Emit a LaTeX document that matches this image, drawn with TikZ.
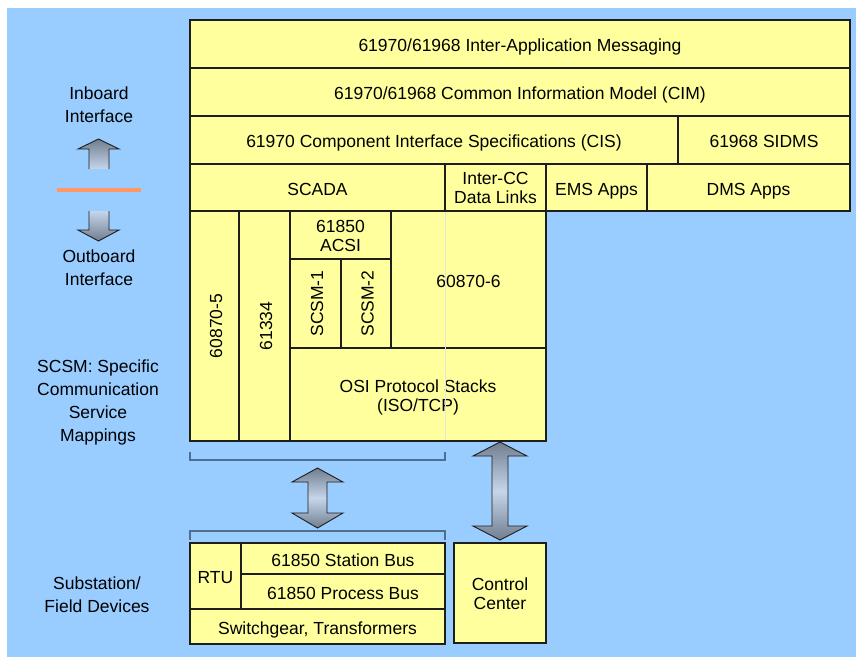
\documentclass[tikz,border=0pt]{standalone}
\usepackage{fontspec}
\setmainfont{Liberation Sans}

\definecolor{bgblue}{RGB}{153,204,255}
\definecolor{boxyellow}{RGB}{255,255,158}
\definecolor{edge}{RGB}{30,30,30}
\definecolor{bracket}{RGB}{78,110,148}
\definecolor{sep}{RGB}{255,150,100}
\definecolor{arrdark}{RGB}{112,126,142}
\definecolor{arrlight}{RGB}{198,214,234}

\newcommand\topstrut{\rule{0pt}{19.5pt}}
\newcommand\botstrut{\rule[-4.5pt]{0pt}{4.5pt}}

\tikzset{%
    layer/.style={draw=edge,fill=boxyellow,line width=1.1pt},
    lbl/.style={align=center,inner sep=0pt,font=\fontsize{17.5}{19}\selectfont,
        execute at begin node=\topstrut,execute at end node=\botstrut},
    stack/.style={lbl,yshift=-3pt},
    vlbl/.style={lbl,rotate=90},
    side/.style={lbl,font=\fontsize{17.5}{23}\selectfont},
    brace/.style={draw=bracket,line width=1.6pt},
    bigarrow/.style={draw=edge,line width=0.9pt,line join=miter},
    hint/.style={draw=edge!12,line width=0.8pt},
}

\begin{document}
\begin{tikzpicture}[x=1pt,y=-1pt]

	\useasboundingbox (0,0) rectangle (856,657);
	\fill[bgblue] (7,8) rectangle (856,657);

	%upper layers
	\draw[layer] (190,20) rectangle (850,68) node[lbl,pos=.5] (msg) {61970/61968 Inter-Application Messaging};
	\draw[layer] (190,68) rectangle (850,116) node[lbl,pos=.5] (cim) {61970/61968 Common Information Model (CIM)};
	\draw[layer] (190,116) rectangle (678,164) node[lbl,pos=.5] (cis) {61970 Component Interface Specifications (CIS)};
	\draw[layer] (678,116) rectangle (850,164) node[lbl,pos=.5] (sidms) {61968 SIDMS};
	\draw[layer] (190,164) rectangle (445,211) node[lbl,pos=.5] (scada) {SCADA};
	\draw[layer] (445,164) rectangle (546,211) node[stack,pos=.5] (intercc) {Inter-CC\\Data Links};
	\draw[layer] (546,164) rectangle (647,211) node[lbl,pos=.5] (ems) {EMS Apps};
	\draw[layer] (647,164) rectangle (850,211) node[lbl,pos=.5] (dms) {DMS Apps};

	%protocol block
	\draw[layer] (190,211) rectangle (239,441) node[vlbl,pos=.5] (iecfive) {60870-5};
	\draw[layer] (239,211) rectangle (290,441) node[vlbl,pos=.5] (plc) {61334};
	\draw[layer] (290,211) rectangle (391,259) node[stack,pos=.5] (acsi) {61850\\ACSI};
	\draw[layer] (290,259) rectangle (341,348) node[vlbl,pos=.5] (scsma) {SCSM-1};
	\draw[layer] (341,259) rectangle (391,348) node[vlbl,pos=.5] (scsmb) {SCSM-2};
	\draw[layer] (391,211) rectangle (546,348) node[lbl,pos=.5] (iccp) {60870-6};
	\draw[layer] (290,348) rectangle (546,441) node[stack,pos=.5] (osi) {OSI Protocol Stacks\\(ISO/TCP)};
	\draw[hint] (445,212) -- (445,440);

	%field devices
	\draw[layer] (190,543) rectangle (241,609) node[lbl,pos=.5] (rtu) {RTU};
	\draw[layer] (241,543) rectangle (445,574) node[lbl,pos=.5] (stbus) {61850 Station Bus};
	\draw[layer] (241,574) rectangle (445,609) node[lbl,pos=.5] (prbus) {61850 Process Bus};
	\draw[layer] (190,609) rectangle (445,644) node[lbl,pos=.5] (gear) {Switchgear, Transformers};
	\draw[layer] (454,543) rectangle (546,643) node[stack,pos=.5] (cc) {Control\\Center};

	%brackets
	\draw[brace] (190,452) -- (190,460) -- (445,460) -- (445,452);
	\draw[brace] (190,540) -- (190,531) -- (445,531) -- (445,540);

	%side labels
	\node[side] (inb) at (99,107) {Inboard\\Interface};
	\node[side] (outb) at (99,269.5) {Outboard\\Interface};
	\node[side] (scsm) at (98,403) {SCSM: Specific\\Communication\\Service\\Mappings};
	\node[side] (subst) at (97,596.5) {Substation/\\Field Devices};
	\draw[sep,line width=3.5pt] (57,190) -- (141,190);

	%block arrows
	\shade[top color=arrdark,bottom color=arrlight] (89,169) -- (89,149) -- (78,149) -- (98.5,139) -- (119,149) -- (109,149) -- (109,169) -- cycle;
	\draw[bigarrow] (89,169) -- (89,149) -- (78,149) -- (98.5,139) -- (119,149) -- (109,149) -- (109,169);
	\shade[top color=arrlight,bottom color=arrdark] (89,211) -- (89,230) -- (78,230) -- (98.5,241) -- (119,230) -- (109,230) -- (109,211) -- cycle;
	\draw[bigarrow] (89,211) -- (89,230) -- (78,230) -- (98.5,241) -- (119,230) -- (109,230) -- (109,211);

	\shadedraw[bigarrow,top color=arrdark,bottom color=arrdark,middle color=arrlight]
		(317.5,468) -- (343,482) -- (327,482) -- (327,513) -- (343,513) -- (317.5,528)
		-- (292,513) -- (308,513) -- (308,482) -- (292,482) -- cycle;
	\shadedraw[bigarrow,top color=arrdark,bottom color=arrdark,middle color=arrlight]
		(500,442) -- (527,456) -- (508,456) -- (508,526) -- (527,526) -- (500,540)
		-- (473,526) -- (492,526) -- (492,456) -- (473,456) -- cycle;

\end{tikzpicture}
\end{document}
